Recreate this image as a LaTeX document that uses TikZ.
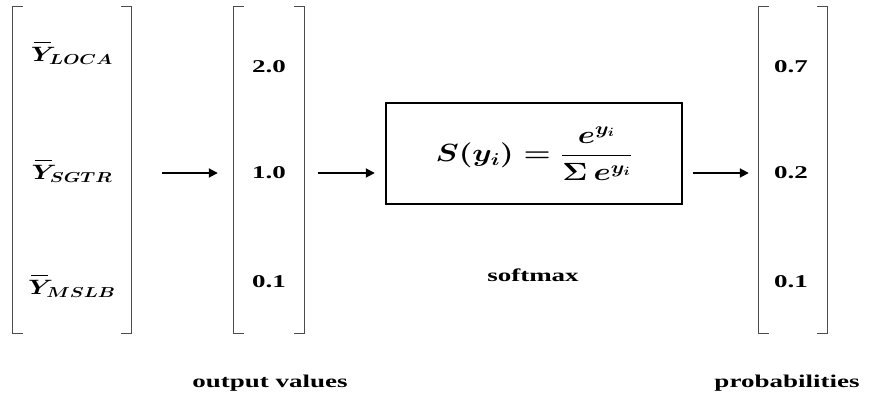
\documentclass[tikz,border=0pt]{standalone}
\usepackage{fontspec}
\setmainfont{Liberation Serif}
\usepackage{graphicx}
\usetikzlibrary{arrows.meta}
\newcommand{\wide}[2][1.5]{\scalebox{#1}[1]{#2}}
\newcommand{\ybar}[1]{\makebox[0pt][l]{\hspace{0.12em}\rule[0.92em]{0.66em}{1.2pt}}$Y_{#1}$}
\tikzset{
  lbl/.style={font=\bfseries\fontsize{18}{21}\selectfont},
  mth/.style={font=\fontsize{20}{24}\selectfont\boldmath},
  vec/.style={minimum height=326pt,inner sep=0pt},
  brk/.style={line width=1.3pt,draw=black!70},
  arr/.style={line width=1.8pt,-{Triangle[length=9pt,width=9pt]}}
}

\begin{document}
\begin{tikzpicture}[x=1pt,y=-1pt]
\useasboundingbox (0,0) rectangle (872,396);
\foreach \v/\x/\w in {vin/72/118,vout/269/70,vprob/793/68}{
  \node[vec,minimum width=\w pt] (\v) at (\x,170) {};
  \draw[brk] ([xshift=10pt]\v.north west) -- (\v.north west) -- (\v.south west) -- ([xshift=10pt]\v.south west);
  \draw[brk] ([xshift=-10pt]\v.north east) -- (\v.north east) -- (\v.south east) -- ([xshift=-10pt]\v.south east);
}
\foreach \k/\s/\y in {1/LOCA/53,2/SGTR/171,3/MSLB/286}{
  \node[mth] (in\k) at (72,\y) {\wide[1.3]{\ybar{\s}}};
}
\foreach \k/\a/\b/\y in {1/2.0/0.7/67,2/1.0/0.2/173,3/0.1/0.1/282}{
  \node[lbl] (out\k) at (269,\y) {\wide{\a}};
  \node[lbl] (prob\k) at (791,\y) {\wide{\b}};
}
\node[draw,line width=2.4pt,minimum width=296pt,minimum height=101pt,mth] (smax) at (534,153.5)
  {\wide[1.25]{\fontsize{24}{28}\selectfont$S(y_i)=\displaystyle\frac{e^{y_i}}{\Sigma\, e^{y_i}}$}};
\draw[arr,shorten <=31pt,shorten >=16pt] (vin.east |- out2) -- (vout.west |- out2);
\draw[arr,shorten <=14pt,shorten >=10pt] (vout.east |- out2) -- (smax.west |- out2);
\draw[arr,shorten <=10pt,shorten >=10pt] (smax.east |- prob2) -- (vprob.west |- prob2);
\node[lbl] (outlbl) at (270,383) {\wide{output values}};
\node[lbl] (smaxlbl) at (533,275) {\wide{softmax}};
\node[lbl] (problbl) at (787,383) {\wide{probabilities}};
\end{tikzpicture}
\end{document}
